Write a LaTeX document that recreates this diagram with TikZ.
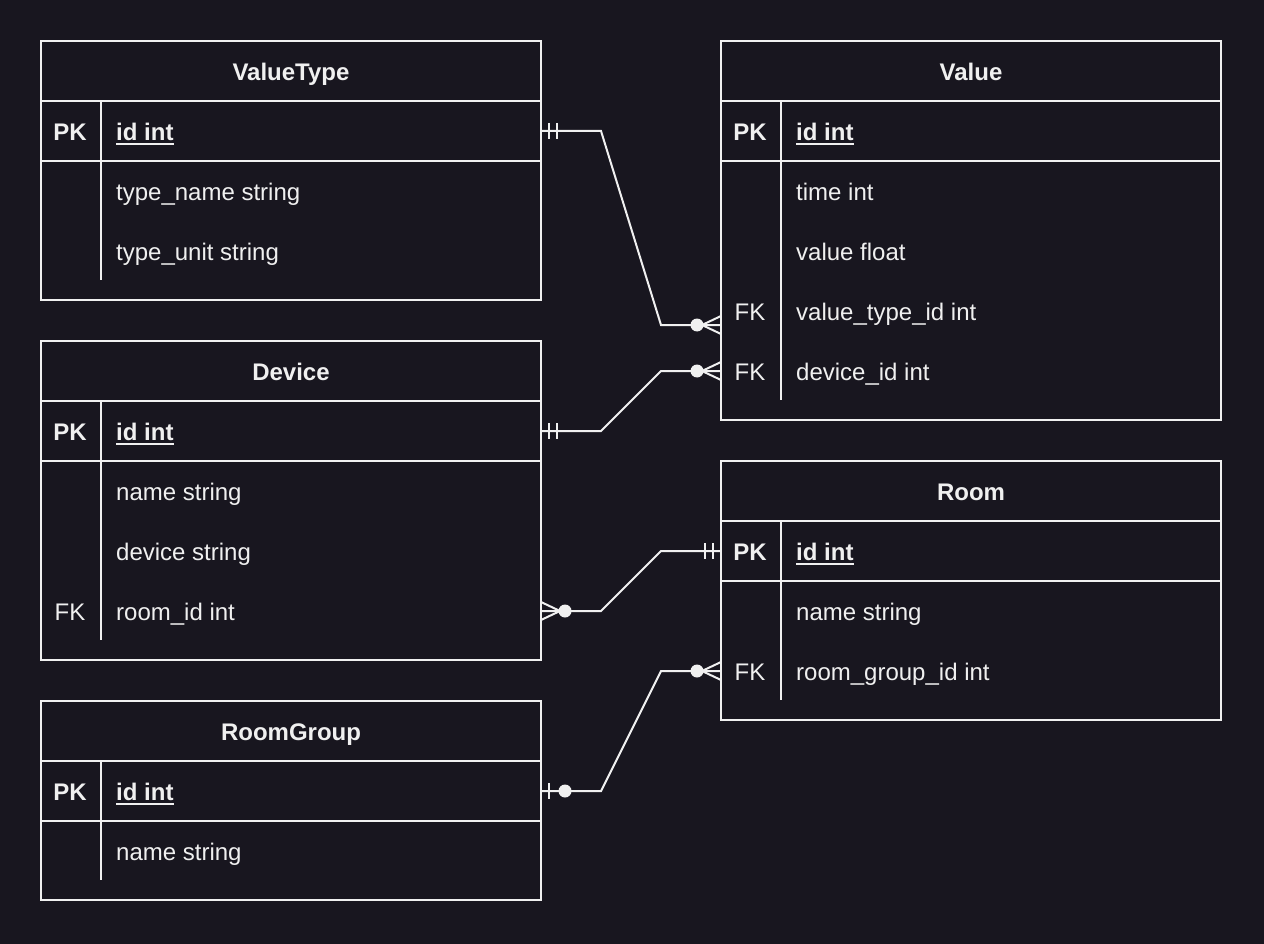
\documentclass[tikz,border=0pt]{standalone}
\usepackage{fontspec}
\usetikzlibrary{calc}
\setmainfont{Liberation Sans}
\definecolor{bg}{HTML}{18161F}
\definecolor{fg}{HTML}{F0F0F0}
\newcommand{\fsz}{\fontsize{24}{28}\selectfont}
\tikzset{
  tblbox/.style={draw=fg, line width=2pt},
  tblline/.style={draw=fg, line width=2pt},
  ttl/.style={text=fg, font=\fsz\bfseries, anchor=base, inner sep=0pt},
  keylbl/.style={text=fg, font=\fsz, anchor=base, inner sep=0pt},
  attr/.style={text=fg, font=\fsz, anchor=base west, inner sep=0pt},
  pkattr/.style={attr, font=\fsz\bfseries},
  uline/.style={draw=fg, line width=2pt},
  conn/.style={draw=fg, line width=2pt, line join=miter},
  erdmark/.style={draw=fg, line width=2pt},
  erddot/.style={fill=fg},
}
\begin{document}
\begin{tikzpicture}[x=1pt,y=-1pt]
\fill[bg] (0,0) rectangle (1264,944);
\useasboundingbox (0,0) rectangle (1264,944);

% ---------- ValueType ----------
\draw[tblbox] (41,41) rectangle (541,300);
\draw[tblline] (41,101) -- (541,101);
\draw[tblline] (41,161) -- (541,161);
\draw[tblline] (101,101) -- (101,280);
\node[ttl] (vtT) at (291,80.5) {ValueType};
\node[keylbl,font=\fsz\bfseries] (vtPK) at (70,140.5) {PK};
\node[pkattr] (vtId) at (116,140.5) {id int};
\draw[uline] ($(vtId.base west)+(0,3.5)$) -- ($(vtId.base east)+(0,3.5)$);
\node[attr] (vtA1) at (116,200.5) {type\_name string};
\node[attr] (vtA2) at (116,260.5) {type\_unit string};

% ---------- Device ----------
\draw[tblbox] (41,341) rectangle (541,660);
\draw[tblline] (41,401) -- (541,401);
\draw[tblline] (41,461) -- (541,461);
\draw[tblline] (101,401) -- (101,640);
\node[ttl] (dT) at (291,380.5) {Device};
\node[keylbl,font=\fsz\bfseries] (dPK) at (70,440.5) {PK};
\node[pkattr] (dId) at (116,440.5) {id int};
\draw[uline] ($(dId.base west)+(0,3.5)$) -- ($(dId.base east)+(0,3.5)$);
\node[attr] (dA1) at (116,500.5) {name string};
\node[attr] (dA2) at (116,560.5) {device string};
\node[keylbl] (dFK) at (70,620.5) {FK};
\node[attr] (dA3) at (116,620.5) {room\_id int};

% ---------- RoomGroup ----------
\draw[tblbox] (41,701) rectangle (541,900);
\draw[tblline] (41,761) -- (541,761);
\draw[tblline] (41,821) -- (541,821);
\draw[tblline] (101,761) -- (101,880);
\node[ttl] (rgT) at (291,740.5) {RoomGroup};
\node[keylbl,font=\fsz\bfseries] (rgPK) at (70,800.5) {PK};
\node[pkattr] (rgId) at (116,800.5) {id int};
\draw[uline] ($(rgId.base west)+(0,3.5)$) -- ($(rgId.base east)+(0,3.5)$);
\node[attr] (rgA1) at (116,860.5) {name string};

% ---------- Value ----------
\draw[tblbox] (721,41) rectangle (1221,420);
\draw[tblline] (721,101) -- (1221,101);
\draw[tblline] (721,161) -- (1221,161);
\draw[tblline] (781,101) -- (781,400);
\node[ttl] (vT) at (971,80.5) {Value};
\node[keylbl,font=\fsz\bfseries] (vPK) at (750,140.5) {PK};
\node[pkattr] (vId) at (796,140.5) {id int};
\draw[uline] ($(vId.base west)+(0,3.5)$) -- ($(vId.base east)+(0,3.5)$);
\node[attr] (vA1) at (796,200.5) {time int};
\node[attr] (vA2) at (796,260.5) {value float};
\node[keylbl] (vFK1) at (750,320.5) {FK};
\node[attr] (vA3) at (796,320.5) {value\_type\_id int};
\node[keylbl] (vFK2) at (750,380.5) {FK};
\node[attr] (vA4) at (796,380.5) {device\_id int};

% ---------- Room ----------
\draw[tblbox] (721,461) rectangle (1221,720);
\draw[tblline] (721,521) -- (1221,521);
\draw[tblline] (721,581) -- (1221,581);
\draw[tblline] (781,521) -- (781,700);
\node[ttl] (rT) at (971,500.5) {Room};
\node[keylbl,font=\fsz\bfseries] (rPK) at (750,560.5) {PK};
\node[pkattr] (rId) at (796,560.5) {id int};
\draw[uline] ($(rId.base west)+(0,3.5)$) -- ($(rId.base east)+(0,3.5)$);
\node[attr] (rA1) at (796,620.5) {name string};
\node[keylbl] (rFK) at (750,680.5) {FK};
\node[attr] (rA2) at (796,680.5) {room\_group\_id int};

% ---------- connector end points ----------
\coordinate (vtPKr) at (541,131);
\coordinate (vFK1l) at (721,325);
\coordinate (dPKr) at (541,431);
\coordinate (vFK2l) at (721,371);
\coordinate (rPKl) at (721,551);
\coordinate (dFKr) at (541,611);
\coordinate (rgPKr) at (541,791);
\coordinate (rFKl) at (721,671);

% ValueType.id -> Value.value_type_id
\draw[conn] (vtPKr) -- (601,131) -- (661,325) -- (vFK1l);
\draw[erdmark] (549,123) -- (549,139) (557,123) -- (557,139);
\fill[erddot] (697,325) circle (6.5);
\draw[erdmark] (702,325) -- (721,316) (702,325) -- (721,334);

% Device.id -> Value.device_id
\draw[conn] (dPKr) -- (601,431) -- (661,371) -- (vFK2l);
\draw[erdmark] (549,423) -- (549,439) (557,423) -- (557,439);
\fill[erddot] (697,371) circle (6.5);
\draw[erdmark] (702,371) -- (721,362) (702,371) -- (721,380);

% Room.id -> Device.room_id
\draw[conn] (rPKl) -- (661,551) -- (601,611) -- (dFKr);
\draw[erdmark] (705,543) -- (705,559) (713,543) -- (713,559);
\fill[erddot] (565,611) circle (6.5);
\draw[erdmark] (560,611) -- (541,602) (560,611) -- (541,620);

% RoomGroup.id -> Room.room_group_id
\draw[conn] (rgPKr) -- (601,791) -- (661,671) -- (rFKl);
\draw[erdmark] (549,783) -- (549,799);
\fill[erddot] (565,791) circle (6.5);
\fill[erddot] (697,671) circle (6.5);
\draw[erdmark] (702,671) -- (721,662) (702,671) -- (721,680);
\end{tikzpicture}
\end{document}
